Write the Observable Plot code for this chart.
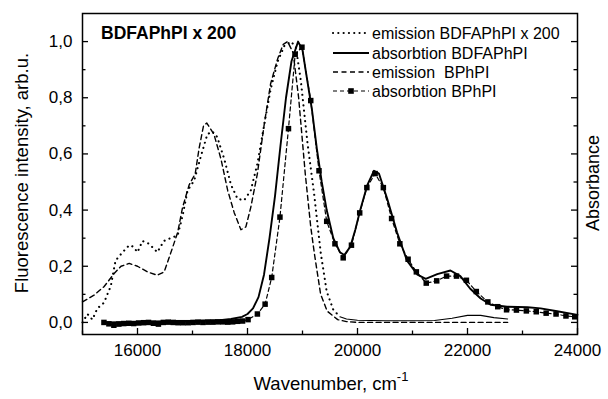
<!DOCTYPE html>
<html><head><meta charset="utf-8">
<script src="https://cdn.jsdelivr.net/npm/d3@7"></script>
<script src="https://cdn.jsdelivr.net/npm/@observablehq/plot@0.6"></script>
<style>body{margin:0;background:#fff} svg{display:block}</style>
</head><body><div id="chart"></div>
<script>
// emission BDFAPhPI x 200 (dotted)
const emBDFA_x = [15000,15090,15180,15270,15390,15515,15600,15730,15850,15920,16000,16090,16210,16360,16480,16600,16730,16820,16910,17030,17150,17270,17360,17450,17580,17700,17820,17940,18060,18180,18300,18420,18550,18670,18790,18880,18970,19090,19210,19330,19440,19560,19680,19800,20000,20500,21000,21400,21720,22000,22240,22480,22730];
const emBDFA_y = [0.0,0.03,0.01,0.05,0.07,0.13,0.22,0.25,0.275,0.27,0.25,0.29,0.28,0.25,0.29,0.30,0.31,0.38,0.47,0.505,0.59,0.67,0.68,0.66,0.58,0.49,0.44,0.435,0.47,0.565,0.70,0.83,0.93,0.985,1.0,0.98,0.86,0.64,0.46,0.25,0.11,0.045,0.02,0.012,0.008,0.006,0.006,0.007,0.015,0.025,0.025,0.017,0.012];
// emission BPhPI (dashed)
const emBPhPI_x = [15000,15210,15390,15575,15700,15850,16000,16180,16360,16485,16600,16730,16820,16940,17050,17120,17200,17260,17390,17520,17640,17760,17880,17970,18060,18180,18300,18420,18550,18650,18730,18830,18930,19050,19150,19220,19330,19450,19640,19800,20000,21000,22000,22730];
const emBPhPI_y = [0.073,0.097,0.127,0.174,0.20,0.21,0.20,0.18,0.168,0.18,0.245,0.32,0.41,0.49,0.53,0.62,0.70,0.71,0.67,0.58,0.47,0.39,0.33,0.34,0.41,0.53,0.70,0.85,0.94,0.99,1.0,0.96,0.80,0.53,0.34,0.24,0.10,0.04,0.01,0.003,0.0,0.0,0.0,0.0];
// absorbtion BDFAPhPI (solid)
const absBDFA_x = [15400,16000,16500,17000,17500,17700,17900,18000,18100,18200,18300,18400,18500,18600,18700,18800,18920,19000,19080,19170,19260,19350,19440,19560,19680,19760,19870,19960,20050,20180,20300,20390,20540,20720,20900,21090,21240,21450,21690,21870,22050,22240,22420,22720,23090,23330,23630,24000];
const absBDFA_y = [0.0,0.002,0.004,0.005,0.008,0.012,0.02,0.03,0.05,0.09,0.17,0.30,0.45,0.63,0.80,0.93,1.0,0.97,0.87,0.76,0.62,0.50,0.40,0.30,0.25,0.24,0.27,0.33,0.40,0.49,0.54,0.53,0.44,0.32,0.22,0.17,0.155,0.172,0.185,0.165,0.12,0.085,0.063,0.056,0.054,0.05,0.04,0.027];
// absorbtion BPhPI (dashed + squares)
const absBPhPI_x = [15390,15480,15570,15660,15750,15840,15930,16020,16110,16200,16290,16380,16470,16560,16650,16740,16830,16920,17010,17100,17190,17280,17370,17460,17550,17640,17730,17820,17910,18010,18180,18320,18440,18590,18745,18867,18990,19150,19300,19440,19590,19740,19890,20040,20170,20320,20470,20620,20770,20920,21070,21250,21440,21620,21800,21980,22160,22370,22550,22710,22890,23070,23250,23430,23610,23790,23950];
const absBPhPI_y = [0.0,-0.005,-0.01,-0.006,-0.004,-0.003,-0.004,-0.002,-0.001,0.0,-0.003,-0.006,0.0,0.001,0.0,-0.001,-0.001,-0.001,0.0,0.001,0.0,0.001,0.001,0.002,0.002,0.001,0.002,0.004,0.005,0.01,0.03,0.065,0.16,0.375,0.69,0.955,0.98,0.79,0.54,0.36,0.28,0.23,0.275,0.39,0.48,0.53,0.48,0.37,0.28,0.225,0.18,0.14,0.148,0.165,0.165,0.15,0.11,0.073,0.056,0.045,0.044,0.041,0.038,0.033,0.03,0.023,0.02];

const xTicks = [16000,18000,20000,22000,24000];
const xMinor = [15000,17000,19000,21000,23000];
const yTicks = [0,0.2,0.4,0.6,0.8,1.0];
const yMinor = [0.1,0.3,0.5,0.7,0.9];
const legendLabels = ["emission BDFAPhPI x 200","absorbtion BDFAPhPI","emission  BPhPI","absorbtion BPhPI"];

const pts = (xs, ys) => xs.map((x, i) => ({x, y: ys[i]}));
const emBDFA = pts(emBDFA_x, emBDFA_y);
const emBPhPI = pts(emBPhPI_x, emBPhPI_y);
const absBDFA = pts(absBDFA_x, absBDFA_y);
const absBPhPI = pts(absBPhPI_x, absBPhPI_y);

const W = 608, H = 399, mt = 13, mr = 31, mb = 65, ml = 82;
const pw = W - ml - mr, ph = H - mt - mb;
const FONT = "'Liberation Sans', Arial, Helvetica, sans-serif";
const comma = d => d3.format(".1f")(d).replace(".", ",");

const chart = Plot.plot({
  width: W, height: H,
  marginTop: mt, marginRight: mr, marginBottom: mb, marginLeft: ml,
  style: {fontFamily: FONT, fontSize: "17px", color: "black", background: "white", overflow: "visible"},
  x: {domain: [15000, 24000]},
  y: {domain: [-0.043, 1.10]},
  marks: [
    Plot.line(emBDFA, {x: "x", y: "y", filter: d => d.x <= 19680, stroke: "black", strokeWidth: 2.1, strokeDasharray: "0.1,5.2", strokeLinecap: "round"}),
    Plot.line(emBDFA, {x: "x", y: "y", filter: d => d.x >= 19680, stroke: "black", strokeWidth: 1.1}),
    Plot.line(emBPhPI, {x: "x", y: "y", stroke: "black", strokeWidth: 1.4, strokeDasharray: "5,3.5"}),
    Plot.line(absBDFA, {x: "x", y: "y", stroke: "black", strokeWidth: 1.9}),
    Plot.line(absBPhPI, {x: "x", y: "y", stroke: "black", strokeWidth: 1.2, strokeDasharray: "4,3"}),
    Plot.dot(absBPhPI, {x: "x", y: "y", symbol: "square", r: 3.1, fill: "black", stroke: "none"}),
    Plot.frame({stroke: "black", strokeWidth: 1.5}),
    Plot.tickX(xTicks, {x: d => d, insetTop: ph - 6, stroke: "black", strokeWidth: 1.3}),
    Plot.tickX(xMinor, {x: d => d, insetTop: ph - 3.5, stroke: "black", strokeWidth: 1.3}),
    Plot.tickY(yTicks, {y: d => d, insetRight: pw - 6, stroke: "black", strokeWidth: 1.3}),
    Plot.tickY(yMinor, {y: d => d, insetRight: pw - 3.5, stroke: "black", strokeWidth: 1.3}),
    Plot.tickY(yTicks, {y: d => d, insetLeft: pw - 6, stroke: "black", strokeWidth: 1.3}),
    Plot.tickY(yMinor, {y: d => d, insetLeft: pw - 3.5, stroke: "black", strokeWidth: 1.3}),
    Plot.axisX({ticks: xTicks, tickSize: 0, tickPadding: 9, label: null, fontSize: 17, tickFormat: d3.format("d")}),
    Plot.axisY({ticks: yTicks, tickSize: 0, tickPadding: 10, label: null, fontSize: 17, tickFormat: comma})
  ]
});
document.getElementById("chart").append(chart);

const svg = d3.select(chart);
const g = svg.append("g").attr("font-family", FONT).attr("fill", "black").attr("text-anchor", "start");

// axis titles
const xt = g.append("text").attr("x", 331).attr("y", 390).attr("text-anchor", "middle").attr("font-size", 18.5);
xt.append("tspan").text("Wavenumber, cm");
xt.append("tspan").attr("dy", -9).attr("font-size", 13).text("-1");
g.append("text").attr("transform", "translate(22,173) rotate(-90)").attr("text-anchor", "middle").attr("dy", "0.35em").attr("font-size", 18.5).text("Fluorescence intensity, arb.u.");
g.append("text").attr("transform", "translate(593,183) rotate(-90)").attr("text-anchor", "middle").attr("dy", "0.35em").attr("font-size", 18).text("Absorbance");

// annotation
g.append("text").attr("x", 101).attr("y", 33).attr("dy", "0.35em").attr("text-anchor", "start").attr("font-size", 17.5).attr("font-weight", "bold").text("BDFAPhPI x 200");

// legend
const ly = [33, 53, 72, 91];
const styles = [
  {w: 2.1, dash: "0.1,5.2", cap: "round"},
  {w: 1.9, dash: null, cap: "butt"},
  {w: 1.4, dash: "5,3.5", cap: "butt"},
  {w: 1.2, dash: "4,3", cap: "butt"}
];
legendLabels.forEach((lab, i) => {
  const s = styles[i];
  const ln = g.append("line").attr("x1", 333).attr("x2", 369).attr("y1", ly[i]).attr("y2", ly[i])
    .attr("stroke", "black").attr("stroke-width", s.w).attr("stroke-linecap", s.cap);
  if (s.dash) ln.attr("stroke-dasharray", s.dash);
  if (i === 3) g.append("rect").attr("x", 348.2).attr("y", ly[i] - 2.8).attr("width", 5.6).attr("height", 5.6);
  g.append("text").attr("x", 372).attr("y", ly[i]).attr("dy", "0.35em").attr("text-anchor", "start").attr("font-size", 16).text(lab);
});
</script>
</body></html>
